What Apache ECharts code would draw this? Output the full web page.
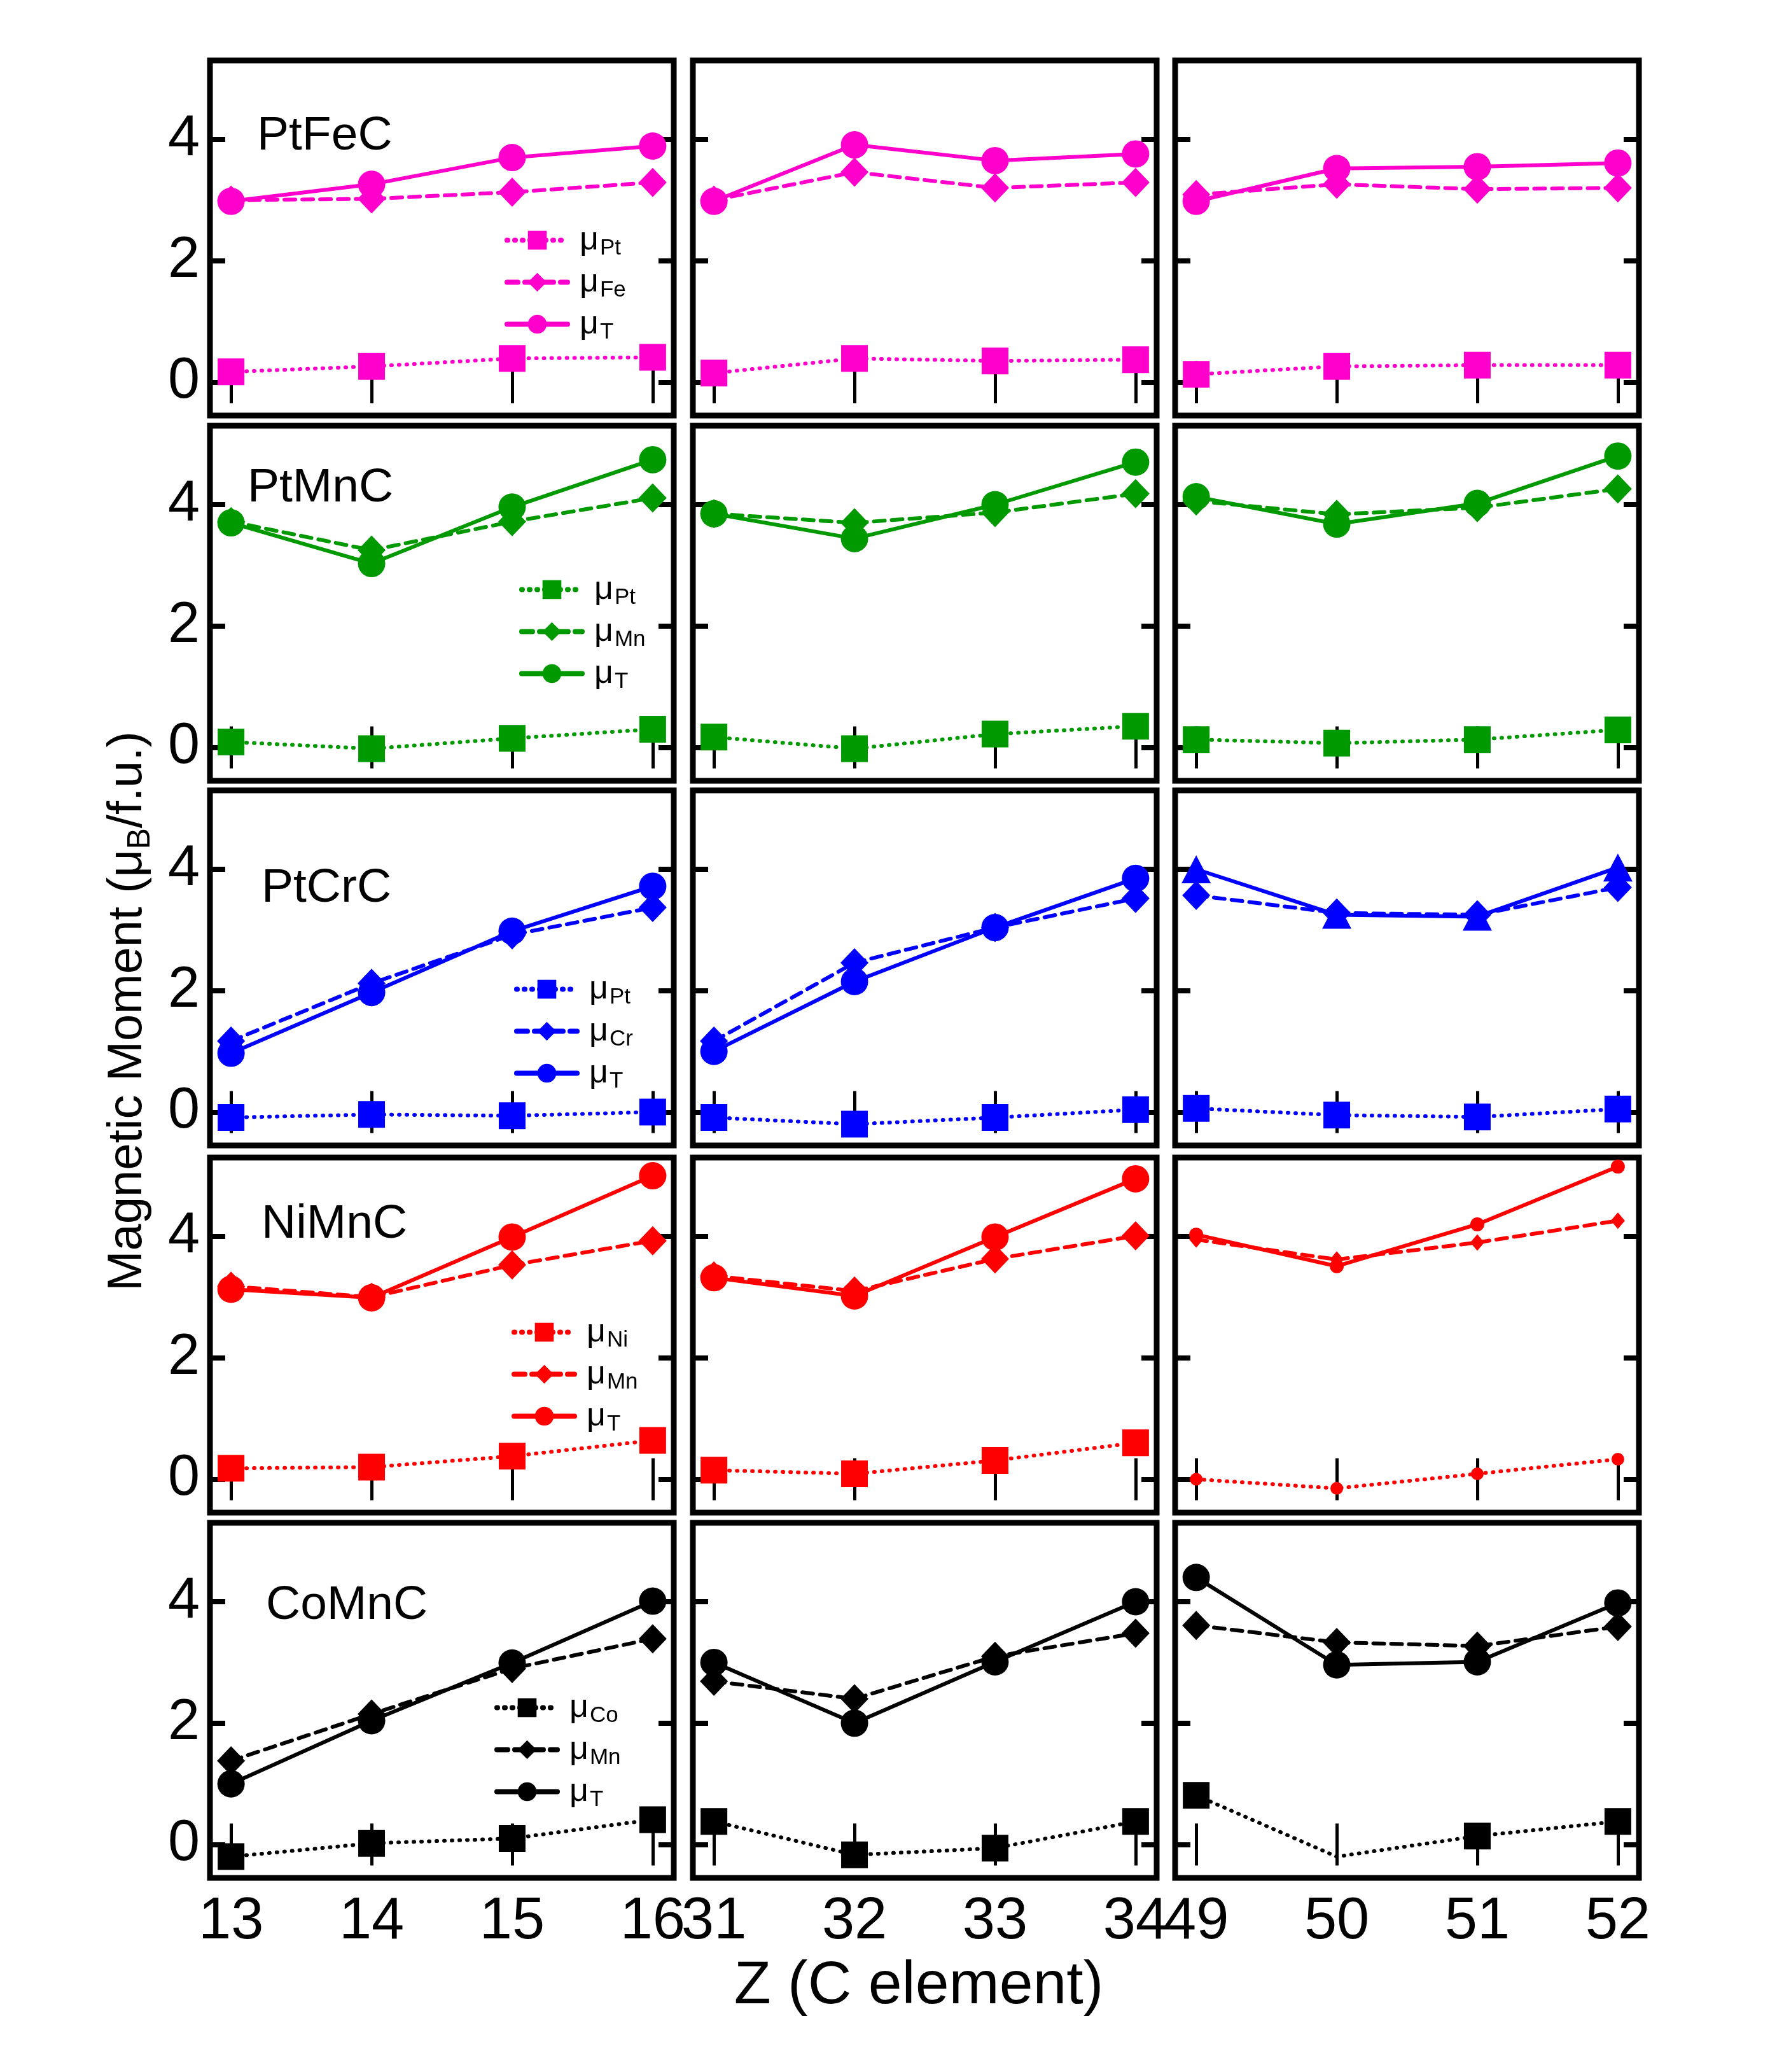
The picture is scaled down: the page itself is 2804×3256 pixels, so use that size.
<!DOCTYPE html>
<html>
<head>
<meta charset="utf-8">
<script src="https://cdn.jsdelivr.net/npm/echarts@6/dist/echarts.min.js"></script>
<style>
html, body { margin: 0; padding: 0; background: #fff; }
#container { width: 2804px; height: 3256px; }
</style>
</head>
<body>
<div id="container"></div>
<script>
// Z of the C element, one list per column
var zCol1 = [13, 14, 15, 16];
var zCol2 = [31, 32, 33, 34];
var zCol3 = [49, 50, 51, 52];
var yTicks = [0, 2, 4];

// PtFeC  (each: col1, col2, col3)
var ptfecPt = [[0.17, 0.26, 0.39, 0.41], [0.15, 0.39, 0.35, 0.37], [0.13, 0.26, 0.28, 0.28]];
var ptfecFe = [[3.0, 3.02, 3.13, 3.29], [3.0, 3.46, 3.2, 3.29], [3.09, 3.26, 3.18, 3.2]];
var ptfecT  = [[2.98, 3.26, 3.7, 3.89], [2.98, 3.91, 3.65, 3.76], [2.98, 3.52, 3.55, 3.61]];
// PtMnC
var ptmncPt = [[0.09, -0.02, 0.15, 0.30], [0.17, -0.02, 0.22, 0.35], [0.13, 0.07, 0.13, 0.29]];
var ptmncMn = [[3.72, 3.25, 3.72, 4.11], [3.85, 3.7, 3.87, 4.18], [4.06, 3.84, 3.95, 4.26]];
var ptmncT  = [[3.70, 3.03, 3.96, 4.74], [3.85, 3.44, 4.0, 4.7], [4.13, 3.68, 4.02, 4.8]];
// PtCrC
var ptcrcPt = [[-0.09, -0.04, -0.06, 0.0], [-0.09, -0.2, -0.09, 0.04], [0.06, -0.05, -0.08, 0.05]];
var ptcrcCr = [[1.17, 2.12, 2.92, 3.37], [1.17, 2.46, 3.04, 3.52], [3.57, 3.28, 3.25, 3.7]];
var ptcrcT  = [[0.97, 1.97, 2.98, 3.72], [1.0, 2.15, 3.04, 3.85], [4.0, 3.25, 3.22, 4.03]];
// NiMnC
var nimncNi = [[0.18, 0.2, 0.38, 0.64], [0.15, 0.09, 0.31, 0.6], [0.0, -0.15, 0.09, 0.33]];
var nimncMn = [[3.18, 3.0, 3.53, 3.93], [3.35, 3.1, 3.63, 4.01], [3.95, 3.62, 3.9, 4.26]];
var nimncT  = [[3.13, 2.99, 3.99, 5.0], [3.32, 3.02, 3.99, 4.95], [4.03, 3.51, 4.2, 5.15]];
// CoMnC
var comncCo = [[-0.2, 0.02, 0.1, 0.41], [0.38, -0.17, -0.06, 0.38], [0.81, -0.2, 0.14, 0.38]];
var comncMn = [[1.38, 2.15, 2.9, 3.39], [2.69, 2.4, 3.1, 3.48], [3.61, 3.33, 3.27, 3.59]];
var comncT  = [[1.0, 2.04, 2.99, 4.01], [3.0, 2.0, 3.01, 4.0], [4.4, 2.96, 3.01, 3.98]];

var compounds = ['PtFeC', 'PtMnC', 'PtCrC', 'NiMnC', 'CoMnC'];
var subs = [['Pt', 'Fe', 'T'], ['Pt', 'Mn', 'T'], ['Pt', 'Cr', 'T'], ['Ni', 'Mn', 'T'], ['Co', 'Mn', 'T']];
var colors = ['#FF00CC', '#009900', '#0000FF', '#FF0000', '#000000'];
var values = [
    [ptfecPt, ptfecFe, ptfecT],
    [ptmncPt, ptmncMn, ptmncT],
    [ptcrcPt, ptcrcCr, ptcrcT],
    [nimncNi, nimncMn, nimncT],
    [comncCo, comncMn, comncT]
];

var FONT = 'Liberation Sans, Arial, sans-serif';
var zCols = [zCol1, zCol2, zCol3];
var colLeft = [330, 1089, 1847];
var rowTop = [95, 669, 1242, 1819, 2393];
var W = 729, H = 558;

var grids = [], xAxes = [], yAxes = [], series = [];

for (var r = 0; r < 5; r++) {
    for (var c = 0; c < 3; c++) {
        var gi = r * 3 + c;
        var zs = zCols[c];
        grids.push({
            left: colLeft[c], top: rowTop[r], width: W, height: H,
            show: true, borderColor: '#000', borderWidth: 9, backgroundColor: 'transparent'
        });
        ['bottom', 'top'].forEach(function (pos) {
            xAxes.push({
                gridIndex: gi, type: 'value', position: pos,
                min: zs[0] - 0.15, max: zs[3] + 0.15,
                axisLine: { show: false }, splitLine: { show: false },
                axisTick: { inside: true, length: 33, customValues: zs, lineStyle: { width: 5, color: '#000' } },
                axisLabel: {
                    show: pos === 'bottom' && r === 4, customValues: zs, margin: 24,
                    fontSize: 92, color: '#000', fontFamily: FONT
                }
            });
        });
        ['left', 'right'].forEach(function (pos) {
            yAxes.push({
                gridIndex: gi, type: 'value', position: pos,
                min: -0.55, max: 5.3,
                axisLine: { show: false }, splitLine: { show: false },
                axisTick: { inside: true, length: 24, customValues: yTicks, lineStyle: { width: 8, color: '#000' } },
                axisLabel: {
                    show: pos === 'left' && c === 0, customValues: yTicks, margin: 16,
                    fontSize: 90, color: '#000', fontFamily: FONT
                }
            });
        });
    }
}

// series: by row, then column, so the first series of each name is the column-1 one (legend icon)
for (var r2 = 0; r2 < 5; r2++) {
    for (var c2 = 0; c2 < 3; c2++) {
        var g = r2 * 3 + c2;
        for (var k = 0; k < 3; k++) {
            var symbol = ['rect', 'diamond', 'circle'][k];
            var size = [42, [44, 46], 43][k];
            if (r2 === 2 && c2 === 2 && k === 2) { symbol = 'triangle'; size = [46, 44]; }
            if (r2 === 3 && c2 === 2) { symbol = ['circle', 'diamond', 'circle'][k]; size = [20, [22, 26], 22][k]; }
            var lineType = [[1, 11], [17, 11], 'solid'][k];
            var vals = values[r2][k][c2];
            var data = zCols[c2].map(function (z, i) {
                var item = { value: [z, vals[i]] };
                // no marker drawn at Z=50 for the Co moment in CoMnC
                if (r2 === 4 && c2 === 2 && k === 0 && i === 1) item.symbolSize = 0;
                return item;
            });
            series.push({
                name: compounds[r2] + '|' + subs[r2][k],
                type: 'line',
                xAxisIndex: g * 2, yAxisIndex: g * 2,
                symbol: symbol, symbolSize: size,
                color: colors[r2],
                itemStyle: { color: colors[r2] },
                lineStyle: { color: colors[r2], width: 6, type: lineType, cap: 'round' },
                animation: false,
                z: 2 + k,
                data: data
            });
        }
    }
}

var legendPos = [[793, 347], [816, 896], [808, 1524], [804, 2063], [777, 2653]];
var legends = compounds.map(function (cp, i) {
    return {
        left: legendPos[i][0], top: legendPos[i][1],
        orient: 'vertical', padding: 0, itemGap: 5,
        itemWidth: 95, itemHeight: 37, selectedMode: false,
        data: subs[i].map(function (s) { return cp + '|' + s; }),
        lineStyle: { width: 8 },
        formatter: function (n) { return '{m|μ}{s|' + n.split('|')[1] + '}'; },
        textStyle: {
            color: '#000',
            rich: {
                m: { fontSize: 52, lineHeight: 60, padding: [0, 0, 0, 14], color: '#000', fontFamily: FONT },
                s: { fontSize: 35, lineHeight: 35, padding: [26, 0, 0, 2], color: '#000', fontFamily: FONT }
            }
        }
    };
});

var labelPos = [[404, 214], [389, 767], [411, 1396], [411, 1924], [418, 2523]];
var graphics = compounds.map(function (cp, i) {
    return {
        type: 'text', x: labelPos[i][0], y: labelPos[i][1],
        style: { text: cp, fontSize: 75, fontFamily: FONT, fill: '#000', align: 'left', verticalAlign: 'middle' }
    };
});
graphics.push({
    type: 'text', x: 1444, y: 3122,
    style: { text: 'Z (C element)', fontSize: 95, fontFamily: FONT, fill: '#000', align: 'center', verticalAlign: 'middle' }
});
graphics.push({
    type: 'text', x: 201, y: 1589, rotation: Math.PI / 2,
    style: {
        text: '{a|Magnetic Moment (μ}{b|B}{a|/f.u.)}',
        align: 'center', verticalAlign: 'middle', fill: '#000',
        rich: {
            a: { fontSize: 76, lineHeight: 92, fontFamily: FONT, fill: '#000', color: '#000' },
            b: { fontSize: 50, lineHeight: 50, padding: [40, 0, 0, 0], fontFamily: FONT, fill: '#000', color: '#000' }
        }
    }
});

var dom = document.getElementById('container');
var myChart = echarts.init(dom);
var option = {
    backgroundColor: '#FFFFFF',
    animation: false,
    grid: grids,
    xAxis: xAxes,
    yAxis: yAxes,
    legend: legends,
    graphic: graphics,
    series: series
};
myChart.setOption(option);
</script>
</body>
</html>
